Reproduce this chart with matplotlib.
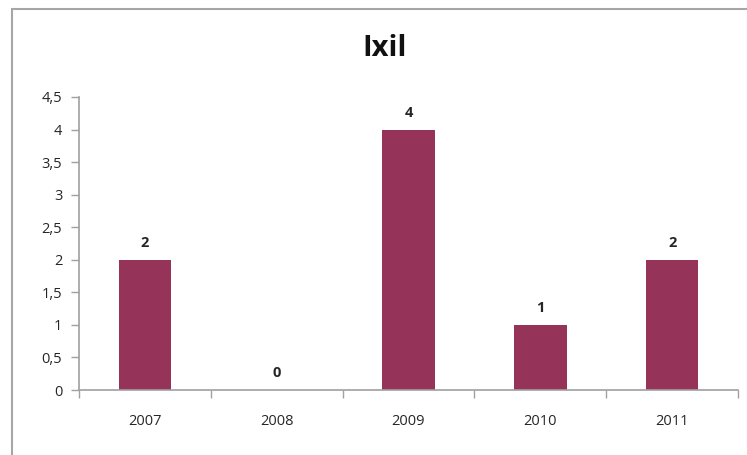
import matplotlib
matplotlib.use("Agg")
import matplotlib.pyplot as plt
from matplotlib.patches import Rectangle
from matplotlib.ticker import FuncFormatter, MultipleLocator
import numpy as np

categories = ["2007", "2008", "2009", "2010", "2011"]
values = [2, 0, 4, 1, 2]
title = "Ixil"

bar_color = "#953359"
axis_color = "#a0a0a0"
text_color = "#262626"

plt.rcParams['font.family'] = ['Open Sans', 'DejaVu Sans']

fig = plt.figure(figsize=(7.47, 4.55), dpi=100)
# chart border
fig.patches.append(Rectangle((12 / 747, -0.1), 1.2, (455 - 9) / 455 + 0.1,
                             transform=fig.transFigure, fill=False,
                             edgecolor="#a6a6a6", linewidth=1.5))

ax = fig.add_axes([79 / 747, 65 / 455, (738 - 79) / 747, 293 / 455])
x = np.arange(len(categories))
bars = ax.bar(x, values, width=0.4, color=bar_color, edgecolor="none")

ax.set_xlim(-0.5, len(categories) - 0.5)
ax.set_ylim(0, 4.5)
ax.yaxis.set_major_locator(MultipleLocator(0.5))
ax.yaxis.set_major_formatter(FuncFormatter(lambda v, p: f"{v:g}".replace(".", ",")))

ax.set_xticks(x)
ax.set_xticklabels(categories)
ax.tick_params(axis="x", which="major", length=0, pad=17, labelsize=10.5, labelcolor=text_color)
ax.set_xticks(np.arange(-0.5, len(categories)), minor=True)
ax.tick_params(axis="x", which="minor", length=6, width=1, color=axis_color)
ax.tick_params(axis="y", length=6, width=1, color=axis_color, labelsize=10.5,
               labelcolor=text_color, pad=6)

for s in ["top", "right"]:
    ax.spines[s].set_visible(False)
for s in ["left", "bottom"]:
    ax.spines[s].set_color(axis_color)
    ax.spines[s].set_linewidth(1.2)

for xi, v in zip(x, values):
    ax.annotate(str(v), (xi, v), xytext=(0, 7), textcoords="offset points",
                ha="center", va="bottom", fontsize=10.5, fontweight="bold",
                color=text_color)

fig.text(385 / 747, 1 - 49 / 455, title, ha="center", va="center",
         fontsize=21, fontweight="bold", color="#111111")

fig.savefig("out.png", dpi=100)
